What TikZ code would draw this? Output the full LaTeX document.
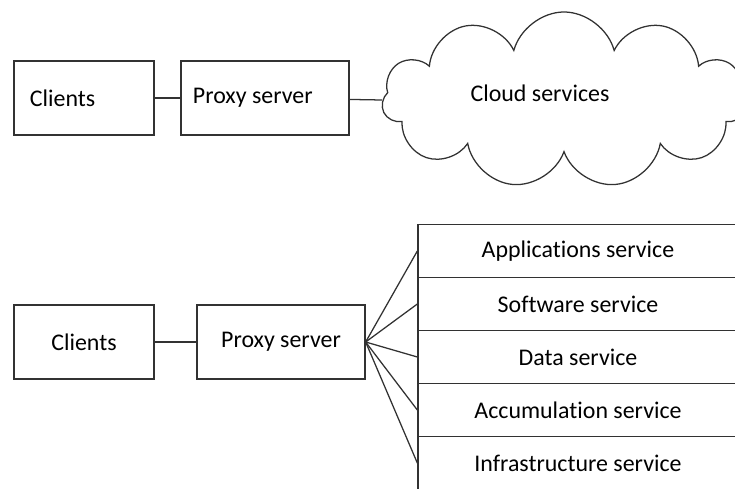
\documentclass[tikz,border=0pt]{standalone}
\usepackage{fontspec}
\setmainfont{Carlito}[Ligatures=NoCommon]
\usepackage{tikz}
\usetikzlibrary{positioning, shapes.symbols}
\definecolor{linegray}{RGB}{50,50,50}
\tikzset{>=stealth}
\tikzset{box/.style={draw=linegray, line width=0.9pt, minimum height=1.85cm, inner sep=0pt},
	leftbox/.style={box, align=flush left},
	row/.style={draw=linegray, line width=0.9pt, minimum width=8cm, minimum height=1.325cm, inner sep=0pt},
	link/.style={draw=linegray, line width=0.9pt}}

\begin{document}
\begin{tikzpicture}[x=0.025cm, y=-0.025cm, font=\fontsize{17}{20}\selectfont]
			\useasboundingbox (0,0) rectangle (735,488);
			\clip (0,0) rectangle (735,488);
			
			% cloud setup
			\node [leftbox, text width=2.7cm, inner xsep=0.4cm] (clients1) at (84,98) {Clients};
			\node [leftbox, text width=3.6cm, inner xsep=0.3cm] (proxy1) at (265,98) {Proxy server};
			\node [cloud, draw=linegray, line width=0.9pt, cloud puffs=11, cloud ignores aspect,
				minimum width=9.1cm, minimum height=4.4cm,
				label={[xshift=-0.6cm, yshift=0.18cm]center:Cloud services}] (cloud) at (564,100) {};
			
			\draw [link] (clients1) -- (proxy1);
			\draw [link] (proxy1) -- (cloud.west);
			
			% service stack
			\node [box, minimum width=3.5cm] (clients2) at (84,342) {Clients};
			\node [box, minimum width=4.2cm] (proxy2) at (281,342) {Proxy server};
			
			\node [row] (apps) at (578,251) {Applications service};
			\node [row] (soft) at (578,304) {Software service};
			\node [row] (data) at (578,357) {Data service};
			\node [row] (accu) at (578,410) {Accumulation service};
			\node [row] (infra) at (578,463) {Infrastructure service};
			
			\draw [link] (clients2) -- (proxy2);
			\foreach \s in {apps, soft, data, accu, infra}
				\draw [link] (proxy2.east) -- (\s.west);
	\end{tikzpicture}
\end{document}
